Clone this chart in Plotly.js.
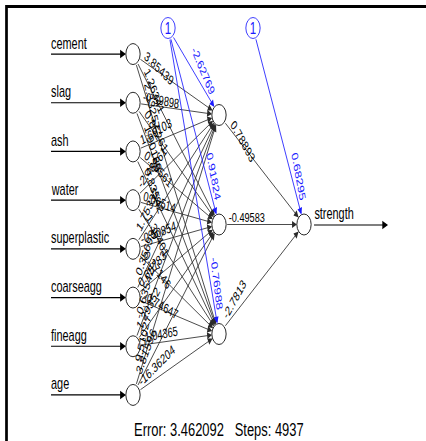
<!DOCTYPE html>
<html>
<head>
<meta charset="utf-8">
<script src="https://cdn.plot.ly/plotly-3.0.1.min.js"></script>
<style>
html, body { margin:0; padding:0; overflow:hidden; background:#fff; width:426px; height:441px; }
#plot { width:626px; height:441px; transform: scaleX(0.680511); transform-origin: 0 0; }
</style>
</head>
<body>
<div id="plot"></div>
<script>
// ---- data ----
const inputNames = ['cement','slag','ash','water','superplastic','coarseagg','fineagg','age'];
const outputName = 'strength';
// input -> hidden weights (rows: inputs, cols: hidden 1..3)
const wCement       = [3.85439, 1.26341, 2.33257];
const wSlag         = [-0.59898, 0.85261, 1.90183];
const wAsh          = [1.66103, 0.39561, 0.83542];
const wWater        = [-2.48261, 0.06514, -1.36401];
const wSuperplastic = [1.75332, -0.50854, 0.37146];
const wCoarseagg    = [0.35698, 0.65783, -0.74647];
const wFineagg      = [-0.63542, 1.29352, -1.04365];
const wAge          = [9.51027, 3.81596, -16.36204];
const hiddenBias    = [-2.62769, 0.91824, -0.76988];
const hiddenToOut   = [0.78893, -0.49583, -2.7813];
const outBias       = [0.68295];
const errorValue = 3.462092;
const stepsValue = 4937;

const weightsIn = [wCement, wSlag, wAsh, wWater, wSuperplastic, wCoarseagg, wFineagg, wAge];

// ---- geometry (visual px; x is squeezed by S) ----
const S = 426/626;
const XIN = 133, XHID = 219, XOUT = 304, YC = 224.5, INSTEP = 48.7, HIDSTEP = 109.5;
const R = 10.5;
const ASPECT = 1.42; // text tilt exaggeration (non-square device)
const nIn = inputNames.length, nHid = hiddenBias.length;
const inNodes = inputNames.map((_, i) => ({x: XIN, y: YC + (i - (nIn-1)/2) * INSTEP}));
const hidNodes = hiddenBias.map((_, j) => ({x: XHID, y: YC + (j - (nHid-1)/2) * HIDSTEP}));
const outNode = {x: XOUT, y: YC};
const bias1 = {x: 168, y: 28}, bias2 = {x: 253, y: 28};

const FONT = '"Liberation Sans", Arial, sans-serif';
const BLUE = '#1a1aff';
const LINE = '#2a2a2a';
const shapes = [], annotations = [];

function dir(a, b) {
  const dx = (b.x - a.x) / S, dy = b.y - a.y, L = Math.hypot(dx, dy);
  return {ux: dx / L, uy: dy / L};
}
function textDir(d) {
  const tx = d.ux, ty = d.uy * ASPECT, L = Math.hypot(tx, ty);
  return {ux: tx / L, uy: ty / L};
}
function pt(a, along, perp, d) { // along/perp in pre-transform px
  return {x: a.x + (d.ux * along + d.uy * perp) * S, y: a.y + d.uy * along - d.ux * perp};
}
function textWidth(s, fs) {
  let w = 0;
  for (const c of s) w += (c === '.' ? 0.278 : c === '-' ? 0.333 : 0.556);
  return w * fs;
}
function circle(n, color) {
  shapes.push({type:'circle', xref:'x', yref:'y', x0:n.x - R*S, x1:n.x + R*S, y0:n.y - R, y1:n.y + R,
    line:{color:color, width:1}, fillcolor:'rgba(0,0,0,0)'});
}
function arrow(a, b, color, width) {
  const d = dir(a, b);
  const L = Math.hypot((b.x - a.x)/S, b.y - a.y);
  const s = pt(a, R, 0, d), e = pt(a, L - R, 0, d);
  annotations.push({x:e.x, y:e.y, ax:s.x, ay:s.y, xref:'x', yref:'y', axref:'x', ayref:'y',
    text:'', showarrow:true, arrowhead:2, arrowsize:1.4, arrowwidth:width, arrowcolor:color,
    standoff:0, startstandoff:0});
}
const WFS = 13.5, OFF = 7;
function labelFromStart(a, b, value, color) {
  const d = dir(a, b), td = textDir(d);
  const txt = String(value);
  const w = textWidth(txt, WFS);
  const t = 14 / d.ux;
  const s = pt(a, t, 0, d);
  const c = pt(s, w/2, OFF, td);
  annotations.push({x:c.x, y:c.y, xref:'x', yref:'y', text:txt, showarrow:false,
    xanchor:'center', yanchor:'middle', textangle: Math.atan2(td.uy, td.ux) * 180 / Math.PI,
    font:{family:FONT, size:WFS, color:color}});
}
function labelToEnd(a, b, value, color) {
  const d = dir(a, b), td = textDir(d);
  const L = Math.hypot((b.x - a.x)/S, b.y - a.y);
  const txt = String(value);
  const w = textWidth(txt, WFS);
  const e = pt(a, L - 24, 0, d);
  const c = pt(e, -w/2, OFF, td);
  annotations.push({x:c.x, y:c.y, xref:'x', yref:'y', text:txt, showarrow:false,
    xanchor:'center', yanchor:'middle', textangle: Math.atan2(td.uy, td.ux) * 180 / Math.PI,
    font:{family:FONT, size:WFS, color:color}});
}

// frame
shapes.push({type:'line', xref:'x', yref:'y', x0:6, x1:440, y0:6.5, y1:6.5, line:{color:'#000', width:3}});
shapes.push({type:'line', xref:'x', yref:'y', x0:6.5, x1:6.5, y0:5, y1:460, line:{color:'#000', width:4}});

// nodes
inNodes.forEach(n => circle(n, '#000'));
hidNodes.forEach(n => circle(n, '#000'));
circle(outNode, '#000');
circle(bias1, BLUE);
circle(bias2, BLUE);
[bias1, bias2].forEach(b => annotations.push({x:b.x, y:b.y, xref:'x', yref:'y', text:'1', showarrow:false,
  xanchor:'center', yanchor:'middle', font:{family:FONT, size:17, color:BLUE}}));

// input arrows and names
inNodes.forEach((n, i) => {
  annotations.push({x:n.x - R*S, y:n.y, ax:50, ay:n.y, xref:'x', yref:'y', axref:'x', ayref:'y',
    text:'', showarrow:true, arrowhead:2, arrowsize:1.4, arrowwidth:1.2, arrowcolor:'#000', standoff:0});
  annotations.push({x:50, y:n.y - 0.5, xref:'x', yref:'y', text:inputNames[i], showarrow:false,
    xanchor:'left', yanchor:'bottom', font:{family:FONT, size:16, color:'#000'}});
});

// input -> hidden
inNodes.forEach((a, i) => hidNodes.forEach((b, j) => arrow(a, b, LINE, 1)));
hiddenBias.forEach((v, j) => arrow(bias1, hidNodes[j], BLUE, 1));
hidNodes.forEach((a, j) => arrow(a, outNode, LINE, 1));
arrow(bias2, outNode, BLUE, 1);

// weight labels
inNodes.forEach((a, i) => hidNodes.forEach((b, j) => labelFromStart(a, b, weightsIn[i][j], '#000')));
hidNodes.forEach((a, j) => labelFromStart(a, outNode, hiddenToOut[j], '#000'));
hiddenBias.forEach((v, j) => labelToEnd(bias1, hidNodes[j], v, BLUE));
labelToEnd(bias2, outNode, outBias[0], BLUE);

// output arrow and name
annotations.push({x:388, y:outNode.y + 0.5, ax:313, ay:outNode.y + 0.5, xref:'x', yref:'y', axref:'x', ayref:'y',
  text:'', showarrow:true, arrowhead:2, arrowsize:1.4, arrowwidth:1.2, arrowcolor:'#000', standoff:0});
annotations.push({x:313, y:outNode.y - 0.5, xref:'x', yref:'y', text:outputName, showarrow:false,
  xanchor:'left', yanchor:'bottom', font:{family:FONT, size:16, color:'#000'}});

// info
annotations.push({x:218.5, y:429, xref:'x', yref:'y',
  text:'Error: ' + errorValue + '   Steps: ' + stepsValue, showarrow:false,
  xanchor:'center', yanchor:'middle', font:{family:FONT, size:19, color:'#000'}});

const layout = {
  width:626, height:441, margin:{l:0, r:0, t:0, b:0},
  xaxis:{range:[0, 426], visible:false, fixedrange:true},
  yaxis:{range:[441, 0], visible:false, fixedrange:true},
  showlegend:false, paper_bgcolor:'#fff', plot_bgcolor:'#fff',
  shapes:shapes, annotations:annotations
};
Plotly.newPlot('plot', [{x:[], y:[], type:'scatter', mode:'markers', hoverinfo:'skip'}], layout,
  {staticPlot:true, displayModeBar:false});
</script>
</body>
</html>
